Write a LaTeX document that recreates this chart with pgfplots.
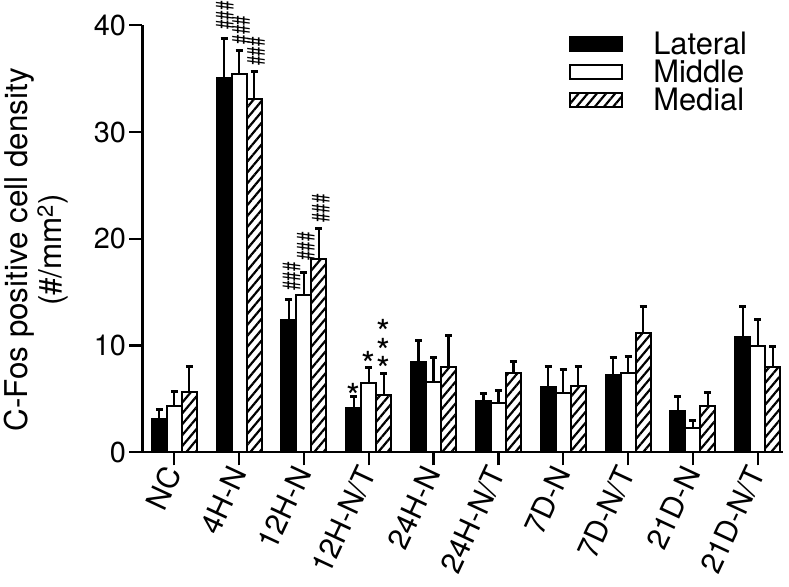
\documentclass[border=0pt]{standalone}
\usepackage{pgfplots}
\pgfplotsset{compat=1.18}
\usepackage{pgfplotstable}
\usepackage{fontspec}
\setmainfont{TeX Gyre Heros}
\usetikzlibrary{patterns.meta}

\pgfplotstableread{
x lat laterr mid miderr med mederr
0 3.09 0.94 4.34 1.31 5.68 2.40
1 35.03 3.71 35.41 2.21 33.10 2.55
2 12.37 1.96 14.76 2.06 18.14 2.81
3 4.18 1.09 6.52 1.47 5.37 2.03
4 8.46 1.97 6.56 2.30 8.02 2.94
5 4.83 0.70 4.65 1.16 7.46 1.09
6 6.09 1.93 5.53 2.18 6.21 1.81
7 7.24 1.62 7.46 1.56 11.15 2.55
8 3.90 1.31 2.25 0.71 4.34 1.24
9 10.77 2.87 9.99 2.47 7.96 1.93
}\data

\pgfplotsset{
  mylegend/.style={legend image code/.code={\draw[##1, line width=2bp] (0bp,-7bp) rectangle (52bp,7bp);}},
  myerr/.style={error bars/.cd, y dir=plus, y explicit,
    error bar style={line width=2.2bp, black, solid},
    error mark options={line width=3bp, mark size=3.5bp, black, rotate=90}},
}
\newcommand{\hashes}{\scalebox{1}[1.45]{\#\#\#}}

\begin{document}
\begin{tikzpicture}
\begin{axis}[
  scale only axis, width=640.5bp, height=427bp,
  xmin=-0.49, xmax=9.39, ymin=0, ymax=40,
  axis x line=bottom, axis y line=left,
  axis line style={-, line width=2.2bp},
  ytick={0,10,20,30,40},
  xtick={0,...,9},
  xticklabels={NC,4H-N,12H-N,12H-N/T,24H-N,24H-N/T,7D-N,7D-N/T,21D-N,21D-N/T},
  tick align=outside, major tick length=13bp,
  tick style={line width=2.2bp, black},
  ybar=0pt, bar width=15bp,
  clip=false,
  /pgf/number format/assume math mode=true,
  yticklabel style={font=\fontsize{29}{29}\selectfont},
  xticklabel style={font=\fontsize{30}{30}\selectfont, rotate=65, anchor=east},
  ylabel={C-Fos positive cell density\\(\#/mm\textsuperscript{2})},
  ylabel style={align=center, font=\fontsize{31.5}{34}\selectfont, at={(axis description cs:-0.110,0.474)}, anchor=south},
  legend style={at={(rel axis cs:0.666,0.985)}, anchor=north west, draw=none, fill=none,
    inner sep=0pt, row sep=4bp, font=\fontsize{31}{31}\selectfont,
    /tikz/every odd column/.style={column sep=30bp}, nodes={inner sep=0pt}},
  legend cell align=left,
]
\addplot[fill=black, draw=black, line width=2bp, mylegend, myerr] table[x=x, y=lat, y error=laterr]{\data};
\addplot[fill=white, draw=black, line width=2bp, mylegend, myerr] table[x=x, y=mid, y error=miderr]{\data};
\addplot[pattern={Lines[angle=50,distance=7bp,line width=2.2bp]}, draw=black, line width=2bp, mylegend, myerr] table[x=x, y=med, y error=mederr]{\data};
\legend{Lateral, Middle, Medial}

\node[rotate=90, font=\fontsize{17}{17}\selectfont] at (axis cs:0.78,40.9) {\hashes};
\node[rotate=90, font=\fontsize{17}{17}\selectfont] at (axis cs:1.03,39.56) {\hashes};
\node[rotate=90, font=\fontsize{17}{17}\selectfont] at (axis cs:1.26,37.55) {\hashes};
\node[rotate=90, font=\fontsize{17}{17}\selectfont] at (axis cs:1.81,16.45) {\hashes};
\node[rotate=90, font=\fontsize{17}{17}\selectfont] at (axis cs:2.03,19.26) {\hashes};
\node[rotate=90, font=\fontsize{17}{17}\selectfont] at (axis cs:2.26,22.84) {\hashes};
\node[font=\fontsize{36}{36}\selectfont, yshift=-6bp] at (axis cs:2.77,5.84) {*};
\node[font=\fontsize{36}{36}\selectfont, yshift=-6bp] at (axis cs:2.99,8.83) {*};
\node[font=\fontsize{36}{36}\selectfont, yshift=-6bp] at (axis cs:3.22,11.77) {*};
\node[font=\fontsize{36}{36}\selectfont, yshift=-6bp] at (axis cs:3.22,10.05) {*};
\node[font=\fontsize{36}{36}\selectfont, yshift=-6bp] at (axis cs:3.22,8.34) {*};
\end{axis}
\pgfresetboundingbox
\path (current axis.south west) ++(-142.5bp,-134.7bp) rectangle ++(789bp,587bp);
\end{tikzpicture}
\end{document}
